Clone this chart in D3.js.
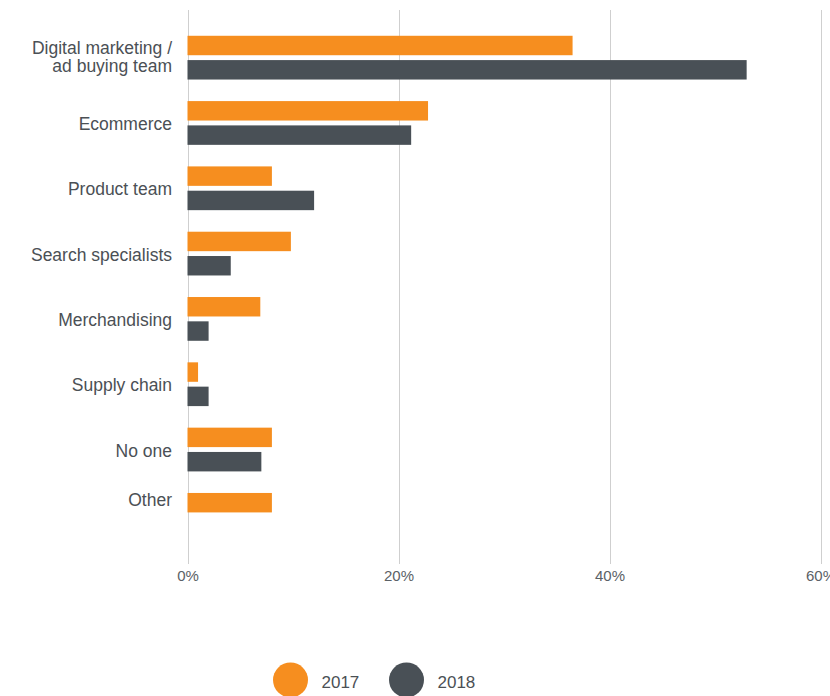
<!DOCTYPE html>
<html>
<head>
<meta charset="utf-8">
<script src="https://cdn.jsdelivr.net/npm/d3@7/dist/d3.min.js"></script>
<style>
  html, body { margin: 0; padding: 0; background: #fff; }
  svg { display: block; font-family: "Liberation Sans", Arial, Helvetica, sans-serif; }
</style>
</head>
<body>
<svg id="chart" width="830" height="696"></svg>
<script>
// Who owns the budget, by team — share of respondents
const categories = [
  "Digital marketing /\nad buying team",
  "Ecommerce",
  "Product team",
  "Search specialists",
  "Merchandising",
  "Supply chain",
  "No one",
  "Other"
];
const seriesNames = ["2017", "2018"];
const values2017 = [36.5, 22.8, 8, 9.8, 6.9, 1, 8, 8];
const values2018 = [53, 21.2, 12, 4.1, 2, 2, 7, null];
const tickValues = [0, 20, 40, 60];
const colors = ["#f68e1f", "#495056"];

const svg = d3.select("#chart");

const x = d3.scaleLinear().domain([0, 60]).range([187.5, 820.5]);
const y = d3.scaleBand().domain(categories).range([25, 547.5])
  .paddingInner(0.33).paddingOuter(0.165);
const ySub = d3.scaleBand().domain(seriesNames).range([0, y.bandwidth()]).paddingInner(0.2);

const rows = categories.map((c, i) => ({
  cat: c,
  vals: [values2017[i], values2018[i]]
}));

// vertical gridlines
svg.append("g").selectAll("line").data(tickValues).join("line")
  .attr("x1", d => Math.round(x(d)) + 0.5).attr("x2", d => Math.round(x(d)) + 0.5)
  .attr("y1", 10).attr("y2", 564)
  .attr("stroke", "#cfcfcf").attr("stroke-width", 1);

// x axis tick labels
const xAxis = d3.axisBottom(x).tickValues(tickValues).tickFormat(d => d + "%").tickSize(0).tickPadding(0);
const gx = svg.append("g").attr("transform", "translate(0,581)").call(xAxis);
gx.select(".domain").remove();
gx.selectAll("text").attr("font-size", 15).attr("fill", "#5b6166")
  .attr("font-family", "Liberation Sans, Arial, sans-serif").attr("y", 0).attr("dy", 0);

// bars
const groups = svg.append("g").selectAll("g").data(rows).join("g")
  .attr("transform", d => `translate(0,${y(d.cat)})`);
groups.selectAll("rect")
  .data(d => d.vals.map((v, k) => ({ v, k })).filter(e => e.v != null))
  .join("rect")
  .attr("x", x(0))
  .attr("y", e => ySub(seriesNames[e.k]))
  .attr("width", e => x(e.v) - x(0))
  .attr("height", ySub.bandwidth())
  .attr("fill", e => colors[e.k]);

// category labels, placed beside the bars present in each group
groups.each(function(d) {
  const present = d.vals.map((v, k) => v != null ? k : -1).filter(k => k >= 0);
  const top = ySub(seriesNames[present[0]]);
  const bot = ySub(seriesNames[present[present.length - 1]]) + ySub.bandwidth();
  const cy = (top + bot) / 2;
  const lines = d.cat.split("\n");
  const lh = 18;
  const base = cy + (present.length < 2 ? 3 : (lines.length > 1 ? 5 : 7));
  const t = d3.select(this).append("text")
    .attr("text-anchor", "end")
    .attr("font-size", 17.5)
    .attr("fill", "#4b5055");
  lines.forEach((ln, i) => {
    t.append("tspan")
      .attr("x", 172)
      .attr("y", base + (i - (lines.length - 1) / 2) * lh)
      .text(ln);
  });
});

// legend
const legend = svg.append("g").selectAll("g").data(seriesNames).join("g")
  .attr("transform", (d, i) => `translate(${290.5 + i * 116},680)`);
legend.append("circle").attr("r", 17.5).attr("fill", (d, i) => colors[i]);
legend.append("text").attr("x", 31).attr("y", 7.7)
  .attr("font-size", 17).attr("fill", "#4b5055").text(d => d);
</script>
</body>
</html>
